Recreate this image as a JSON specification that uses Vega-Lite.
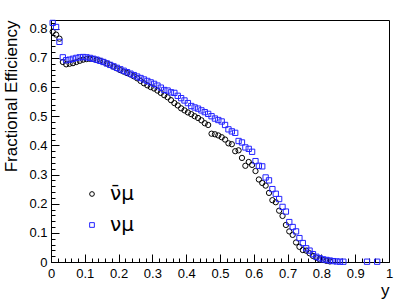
{
  "$schema": "https://vega.github.io/schema/vega-lite/v6.json",
  "width": 338,
  "height": 242,
  "autosize": {"type": "none"},
  "padding": {"left": 51, "top": 20, "right": 20, "bottom": 38},
  "background": "white",
  "config": {
    "view": {"stroke": "black", "strokeWidth": 1},
    "font": "Liberation Sans",
    "axis": {
      "grid": false,
      "domainColor": "black",
      "tickColor": "black",
      "labelColor": "black",
      "titleColor": "black",
      "labelFont": "Liberation Sans",
      "titleFont": "Liberation Sans",
      "labelFontSize": 13,
      "titleFontWeight": "normal",
      "labelFlush": false,
      "labelOverlap": false
    }
  },
  "data": {
    "values": [
      {"y": 0.005, "eff": 0.79, "s": "ν̄μ"},
      {"y": 0.015, "eff": 0.78, "s": "ν̄μ"},
      {"y": 0.025, "eff": 0.766, "s": "ν̄μ"},
      {"y": 0.035, "eff": 0.686, "s": "ν̄μ"},
      {"y": 0.045, "eff": 0.678, "s": "ν̄μ"},
      {"y": 0.055, "eff": 0.68, "s": "ν̄μ"},
      {"y": 0.065, "eff": 0.682, "s": "ν̄μ"},
      {"y": 0.075, "eff": 0.686, "s": "ν̄μ"},
      {"y": 0.085, "eff": 0.69, "s": "ν̄μ"},
      {"y": 0.095, "eff": 0.694, "s": "ν̄μ"},
      {"y": 0.105, "eff": 0.696, "s": "ν̄μ"},
      {"y": 0.115, "eff": 0.697, "s": "ν̄μ"},
      {"y": 0.125, "eff": 0.696, "s": "ν̄μ"},
      {"y": 0.135, "eff": 0.693, "s": "ν̄μ"},
      {"y": 0.145, "eff": 0.69, "s": "ν̄μ"},
      {"y": 0.155, "eff": 0.686, "s": "ν̄μ"},
      {"y": 0.165, "eff": 0.681, "s": "ν̄μ"},
      {"y": 0.175, "eff": 0.676, "s": "ν̄μ"},
      {"y": 0.185, "eff": 0.67, "s": "ν̄μ"},
      {"y": 0.195, "eff": 0.664, "s": "ν̄μ"},
      {"y": 0.205, "eff": 0.658, "s": "ν̄μ"},
      {"y": 0.215, "eff": 0.653, "s": "ν̄μ"},
      {"y": 0.225, "eff": 0.648, "s": "ν̄μ"},
      {"y": 0.235, "eff": 0.643, "s": "ν̄μ"},
      {"y": 0.245, "eff": 0.637, "s": "ν̄μ"},
      {"y": 0.255, "eff": 0.63, "s": "ν̄μ"},
      {"y": 0.265, "eff": 0.621, "s": "ν̄μ"},
      {"y": 0.275, "eff": 0.613, "s": "ν̄μ"},
      {"y": 0.285, "eff": 0.606, "s": "ν̄μ"},
      {"y": 0.295, "eff": 0.6, "s": "ν̄μ"},
      {"y": 0.305, "eff": 0.595, "s": "ν̄μ"},
      {"y": 0.315, "eff": 0.588, "s": "ν̄μ"},
      {"y": 0.325, "eff": 0.58, "s": "ν̄μ"},
      {"y": 0.335, "eff": 0.572, "s": "ν̄μ"},
      {"y": 0.345, "eff": 0.565, "s": "ν̄μ"},
      {"y": 0.355, "eff": 0.555, "s": "ν̄μ"},
      {"y": 0.365, "eff": 0.545, "s": "ν̄μ"},
      {"y": 0.375, "eff": 0.537, "s": "ν̄μ"},
      {"y": 0.385, "eff": 0.527, "s": "ν̄μ"},
      {"y": 0.395, "eff": 0.52, "s": "ν̄μ"},
      {"y": 0.405, "eff": 0.513, "s": "ν̄μ"},
      {"y": 0.415, "eff": 0.507, "s": "ν̄μ"},
      {"y": 0.425, "eff": 0.5, "s": "ν̄μ"},
      {"y": 0.435, "eff": 0.494, "s": "ν̄μ"},
      {"y": 0.445, "eff": 0.486, "s": "ν̄μ"},
      {"y": 0.455, "eff": 0.476, "s": "ν̄μ"},
      {"y": 0.465, "eff": 0.47, "s": "ν̄μ"},
      {"y": 0.475, "eff": 0.44, "s": "ν̄μ"},
      {"y": 0.485, "eff": 0.438, "s": "ν̄μ"},
      {"y": 0.495, "eff": 0.434, "s": "ν̄μ"},
      {"y": 0.505, "eff": 0.428, "s": "ν̄μ"},
      {"y": 0.515, "eff": 0.42, "s": "ν̄μ"},
      {"y": 0.525, "eff": 0.407, "s": "ν̄μ"},
      {"y": 0.535, "eff": 0.404, "s": "ν̄μ"},
      {"y": 0.545, "eff": 0.38, "s": "ν̄μ"},
      {"y": 0.555, "eff": 0.383, "s": "ν̄μ"},
      {"y": 0.565, "eff": 0.357, "s": "ν̄μ"},
      {"y": 0.575, "eff": 0.33, "s": "ν̄μ"},
      {"y": 0.585, "eff": 0.343, "s": "ν̄μ"},
      {"y": 0.595, "eff": 0.333, "s": "ν̄μ"},
      {"y": 0.605, "eff": 0.312, "s": "ν̄μ"},
      {"y": 0.615, "eff": 0.283, "s": "ν̄μ"},
      {"y": 0.625, "eff": 0.271, "s": "ν̄μ"},
      {"y": 0.635, "eff": 0.262, "s": "ν̄μ"},
      {"y": 0.645, "eff": 0.237, "s": "ν̄μ"},
      {"y": 0.655, "eff": 0.212, "s": "ν̄μ"},
      {"y": 0.665, "eff": 0.205, "s": "ν̄μ"},
      {"y": 0.675, "eff": 0.176, "s": "ν̄μ"},
      {"y": 0.685, "eff": 0.158, "s": "ν̄μ"},
      {"y": 0.695, "eff": 0.127, "s": "ν̄μ"},
      {"y": 0.705, "eff": 0.105, "s": "ν̄μ"},
      {"y": 0.715, "eff": 0.093, "s": "ν̄μ"},
      {"y": 0.725, "eff": 0.067, "s": "ν̄μ"},
      {"y": 0.735, "eff": 0.052, "s": "ν̄μ"},
      {"y": 0.745, "eff": 0.041, "s": "ν̄μ"},
      {"y": 0.755, "eff": 0.039, "s": "ν̄μ"},
      {"y": 0.765, "eff": 0.03, "s": "ν̄μ"},
      {"y": 0.775, "eff": 0.021, "s": "ν̄μ"},
      {"y": 0.785, "eff": 0.015, "s": "ν̄μ"},
      {"y": 0.795, "eff": 0.009, "s": "ν̄μ"},
      {"y": 0.805, "eff": 0.007, "s": "ν̄μ"},
      {"y": 0.815, "eff": 0.004, "s": "ν̄μ"},
      {"y": 0.825, "eff": 0.002, "s": "ν̄μ"},
      {"y": 0.005, "eff": 0.82, "s": "νμ"},
      {"y": 0.015, "eff": 0.806, "s": "νμ"},
      {"y": 0.025, "eff": 0.755, "s": "νμ"},
      {"y": 0.035, "eff": 0.702, "s": "νμ"},
      {"y": 0.045, "eff": 0.692, "s": "νμ"},
      {"y": 0.055, "eff": 0.694, "s": "νμ"},
      {"y": 0.065, "eff": 0.697, "s": "νμ"},
      {"y": 0.075, "eff": 0.7, "s": "νμ"},
      {"y": 0.085, "eff": 0.702, "s": "νμ"},
      {"y": 0.095, "eff": 0.703, "s": "νμ"},
      {"y": 0.105, "eff": 0.702, "s": "νμ"},
      {"y": 0.115, "eff": 0.7, "s": "νμ"},
      {"y": 0.125, "eff": 0.697, "s": "νμ"},
      {"y": 0.135, "eff": 0.694, "s": "νμ"},
      {"y": 0.145, "eff": 0.69, "s": "νμ"},
      {"y": 0.155, "eff": 0.686, "s": "νμ"},
      {"y": 0.165, "eff": 0.681, "s": "νμ"},
      {"y": 0.175, "eff": 0.676, "s": "νμ"},
      {"y": 0.185, "eff": 0.671, "s": "νμ"},
      {"y": 0.195, "eff": 0.666, "s": "νμ"},
      {"y": 0.205, "eff": 0.661, "s": "νμ"},
      {"y": 0.215, "eff": 0.656, "s": "νμ"},
      {"y": 0.225, "eff": 0.651, "s": "νμ"},
      {"y": 0.235, "eff": 0.646, "s": "νμ"},
      {"y": 0.245, "eff": 0.641, "s": "νμ"},
      {"y": 0.255, "eff": 0.636, "s": "νμ"},
      {"y": 0.265, "eff": 0.631, "s": "νμ"},
      {"y": 0.275, "eff": 0.626, "s": "νμ"},
      {"y": 0.285, "eff": 0.621, "s": "νμ"},
      {"y": 0.295, "eff": 0.616, "s": "νμ"},
      {"y": 0.305, "eff": 0.611, "s": "νμ"},
      {"y": 0.315, "eff": 0.605, "s": "νμ"},
      {"y": 0.325, "eff": 0.598, "s": "νμ"},
      {"y": 0.335, "eff": 0.59, "s": "νμ"},
      {"y": 0.345, "eff": 0.588, "s": "νμ"},
      {"y": 0.355, "eff": 0.582, "s": "νμ"},
      {"y": 0.365, "eff": 0.58, "s": "νμ"},
      {"y": 0.375, "eff": 0.57, "s": "νμ"},
      {"y": 0.385, "eff": 0.562, "s": "νμ"},
      {"y": 0.395, "eff": 0.554, "s": "νμ"},
      {"y": 0.405, "eff": 0.545, "s": "νμ"},
      {"y": 0.415, "eff": 0.535, "s": "νμ"},
      {"y": 0.425, "eff": 0.53, "s": "νμ"},
      {"y": 0.435, "eff": 0.526, "s": "νμ"},
      {"y": 0.445, "eff": 0.52, "s": "νμ"},
      {"y": 0.455, "eff": 0.514, "s": "νμ"},
      {"y": 0.465, "eff": 0.508, "s": "νμ"},
      {"y": 0.475, "eff": 0.5, "s": "νμ"},
      {"y": 0.485, "eff": 0.492, "s": "νμ"},
      {"y": 0.495, "eff": 0.487, "s": "νμ"},
      {"y": 0.505, "eff": 0.482, "s": "νμ"},
      {"y": 0.515, "eff": 0.47, "s": "νμ"},
      {"y": 0.525, "eff": 0.455, "s": "νμ"},
      {"y": 0.535, "eff": 0.448, "s": "νμ"},
      {"y": 0.545, "eff": 0.443, "s": "νμ"},
      {"y": 0.555, "eff": 0.415, "s": "νμ"},
      {"y": 0.565, "eff": 0.41, "s": "νμ"},
      {"y": 0.575, "eff": 0.393, "s": "νμ"},
      {"y": 0.585, "eff": 0.388, "s": "νμ"},
      {"y": 0.595, "eff": 0.378, "s": "νμ"},
      {"y": 0.605, "eff": 0.346, "s": "νμ"},
      {"y": 0.615, "eff": 0.33, "s": "νμ"},
      {"y": 0.625, "eff": 0.328, "s": "νμ"},
      {"y": 0.635, "eff": 0.29, "s": "νμ"},
      {"y": 0.645, "eff": 0.28, "s": "νμ"},
      {"y": 0.655, "eff": 0.25, "s": "νμ"},
      {"y": 0.665, "eff": 0.234, "s": "νμ"},
      {"y": 0.675, "eff": 0.216, "s": "νμ"},
      {"y": 0.685, "eff": 0.189, "s": "νμ"},
      {"y": 0.695, "eff": 0.173, "s": "νμ"},
      {"y": 0.705, "eff": 0.137, "s": "νμ"},
      {"y": 0.715, "eff": 0.12, "s": "νμ"},
      {"y": 0.725, "eff": 0.105, "s": "νμ"},
      {"y": 0.735, "eff": 0.082, "s": "νμ"},
      {"y": 0.745, "eff": 0.065, "s": "νμ"},
      {"y": 0.755, "eff": 0.047, "s": "νμ"},
      {"y": 0.765, "eff": 0.039, "s": "νμ"},
      {"y": 0.775, "eff": 0.027, "s": "νμ"},
      {"y": 0.785, "eff": 0.018, "s": "νμ"},
      {"y": 0.795, "eff": 0.013, "s": "νμ"},
      {"y": 0.805, "eff": 0.009, "s": "νμ"},
      {"y": 0.815, "eff": 0.007, "s": "νμ"},
      {"y": 0.825, "eff": 0.005, "s": "νμ"},
      {"y": 0.835, "eff": 0.003, "s": "νμ"},
      {"y": 0.845, "eff": 0.002, "s": "νμ"},
      {"y": 0.855, "eff": 0.001, "s": "νμ"},
      {"y": 0.865, "eff": 0.001, "s": "νμ"},
      {"y": 0.935, "eff": 0.001, "s": "νμ"},
      {"y": 0.965, "eff": 0.001, "s": "νμ"}
    ]
  },
  "layer": [
    {
      "mark": {"type": "point", "opacity": 0},
      "encoding": {
        "x": {
          "field": "y", "type": "quantitative",
          "scale": {"domain": [0, 1], "nice": false, "zero": false},
          "axis": {
            "orient": "bottom",
            "values": [0.02,0.04,0.06,0.08,0.12,0.14,0.16,0.18,0.22,0.24,0.26,0.28,0.32,0.34,0.36,0.38,0.42,0.44,0.46,0.48,0.52,0.54,0.56,0.58,0.62,0.64,0.66,0.68,0.72,0.74,0.76,0.78,0.82,0.84,0.86,0.88,0.92,0.94,0.96,0.98],
            "tickSize": -4, "labels": false, "domain": false, "title": null
          }
        },
        "y": {
          "field": "eff", "type": "quantitative",
          "scale": {"domain": [0, 0.83], "nice": false, "zero": false},
          "axis": {
            "orient": "left",
            "values": [0.02,0.04,0.06,0.08,0.12,0.14,0.16,0.18,0.22,0.24,0.26,0.28,0.32,0.34,0.36,0.38,0.42,0.44,0.46,0.48,0.52,0.54,0.56,0.58,0.62,0.64,0.66,0.68,0.72,0.74,0.76,0.78,0.82],
            "tickSize": -4, "labels": false, "domain": false, "title": null
          }
        }
      }
    },
    {
      "mark": {"type": "point", "filled": false, "strokeWidth": 1, "opacity": 1, "size": 28},
      "encoding": {
        "x": {
          "field": "y", "type": "quantitative",
          "axis": {
            "orient": "bottom",
            "values": [0,0.1,0.2,0.3,0.4,0.5,0.6,0.7,0.8,0.9,1],
            "format": "~g",
            "tickSize": -8,
            "labelPadding": 13,
            "title": "y",
            "titleFontSize": 17,
            "titleAnchor": "end",
            "titlePadding": 2
          }
        },
        "y": {
          "field": "eff", "type": "quantitative",
          "axis": {
            "orient": "left",
            "values": [0,0.1,0.2,0.3,0.4,0.5,0.6,0.7,0.8],
            "format": "~g",
            "tickSize": -8,
            "labelPadding": 12,
            "title": "Fractional Efficiency",
            "titleFontSize": 17,
            "titleAnchor": "end",
            "titlePadding": 8
          }
        },
        "shape": {
          "field": "s", "type": "nominal",
          "scale": {"domain": ["ν̄μ", "νμ"], "range": ["circle", "square"]},
          "legend": {
            "orient": "none",
            "legendX": 31,
            "legendY": 164,
            "title": null,
            "labelFontSize": 20,
            "labelFont": "DejaVu Sans",
            "labelColor": "black",
            "symbolSize": 22,
            "symbolStrokeWidth": 1,
            "rowPadding": 11,
            "labelOffset": 8
          }
        },
        "color": {
          "field": "s", "type": "nominal",
          "scale": {"domain": ["ν̄μ", "νμ"], "range": ["#000000", "#2424ff"]}
        }
      }
    }
  ],
  "resolve": {"axis": {"x": "independent", "y": "independent"}}
}
